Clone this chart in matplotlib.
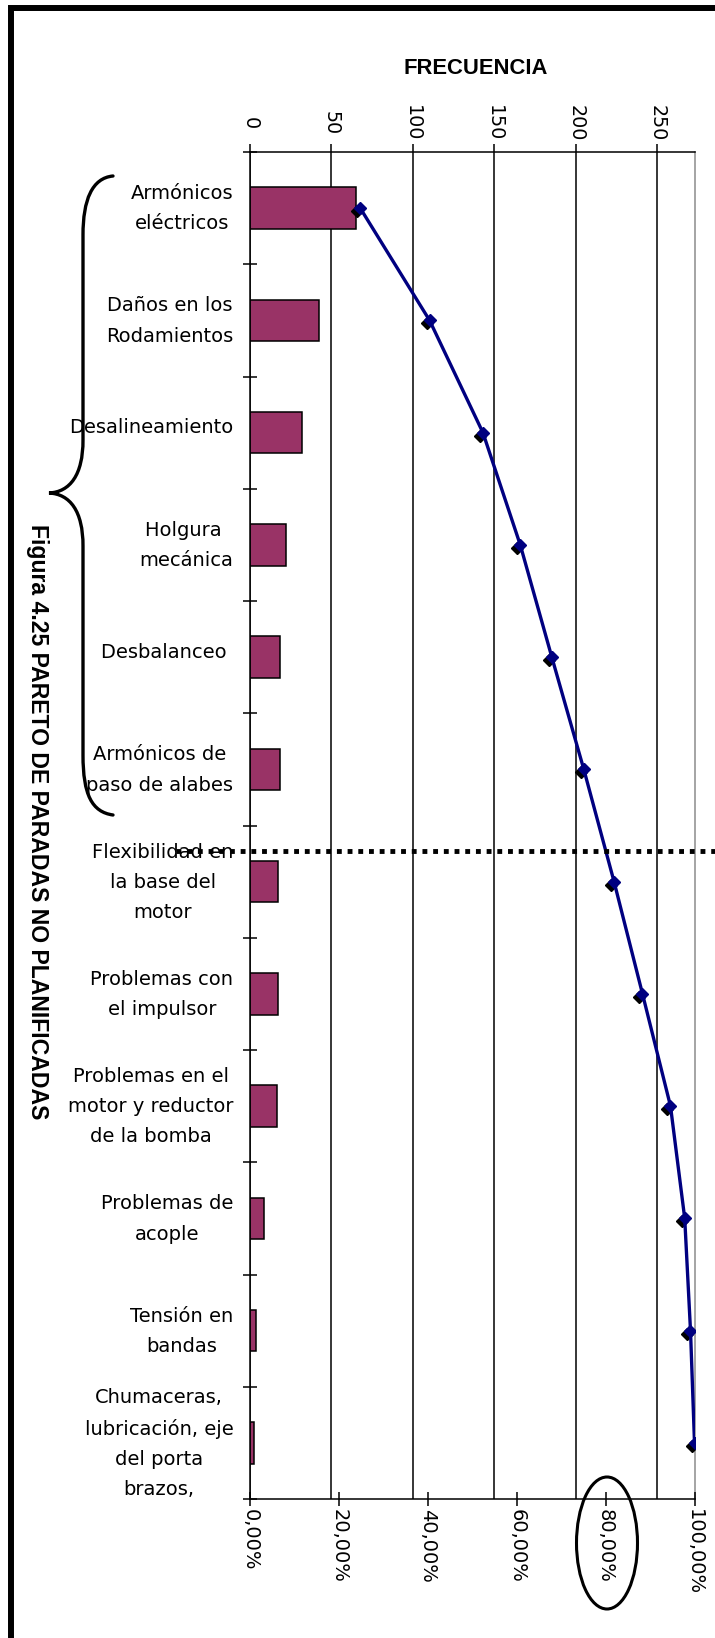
import matplotlib
matplotlib.use('Agg')
import matplotlib.pyplot as plt
import matplotlib.transforms as mtransforms
from matplotlib.path import Path
from matplotlib.patches import PathPatch, Ellipse, Rectangle
from matplotlib.lines import Line2D
import numpy as np

# ---------------- data ----------------
categorias = [
    "Armónicos\neléctricos",
    "Daños en los\nRodamientos",
    "Desalineamiento",
    "Holgura \nmecánica",
    "Desbalanceo ",
    "Armónicos de\npaso de alabes",
    "Flexibilidad en\nla base del\nmotor",
    "Problemas con\nel impulsor",
    "Problemas en el\nmotor y reductor\nde la bomba",
    "Problemas de\nacople",
    "Tensión en\nbandas",
    "Chumaceras,\nlubricación, eje\ndel porta\nbrazos,",
]
frecuencia = [64.8, 42.6, 31.7, 22.0, 18.5, 18.5, 17.5, 17.5, 16.5, 8.6, 3.5, 2.3]
porcentaje_acumulado = [24.8, 40.4, 52.4, 60.8, 67.9, 75.1, 81.9, 88.3, 94.6, 97.8, 99.1, 100.0]

freq_ticks = [0, 50, 100, 150, 200, 250]
freq_labels = ["0", "50", "100", "150", "200", "250"]
pct_ticks = [0, 20, 40, 60, 80, 100]
pct_labels = ["0,00%", "20,00%", "40,00%", "60,00%", "80,00%", "100,00%"]
freq_max = 273

titulo = "Figura 4.25 PARETO DE PARADAS NO PLANIFICADAS"
eje_titulo = "FRECUENCIA"

# ---------------- figure ----------------
W, H = 715, 1638
fig = plt.figure(figsize=(W / 100, H / 100), dpi=100)
fig.patch.set_facecolor('white')


def fx(x):
    return x / W


def fy(y):
    return 1 - y / H


ax_left, ax_right, ax_top, ax_bottom = 250, 694.5, 152, 1499
ax = fig.add_axes([fx(ax_left), fy(ax_bottom), (ax_right - ax_left) / W, (ax_bottom - ax_top) / H])
ax2 = ax.twiny()   # secondary percent axis (created first: twiny resets ax's tick side)

ypos = np.arange(len(categorias))
ax.barh(ypos, frecuencia, height=0.37, color='#993366', edgecolor='black', linewidth=1.1, zorder=2)
ax.set_xlim(0, freq_max)
ax.set_ylim(len(categorias) - 0.5, -0.5)

# top frequency axis
ax.xaxis.tick_top()
ax.xaxis.set_label_position('top')
ax.tick_params(axis='x', which='major', direction='out', length=5.8, width=1.1, pad=15,
               top=True, bottom=False, labeltop=True, labelbottom=False, colors='black')
ax.set_xticks(freq_ticks)
ax.set_xticklabels(freq_labels, rotation=-90, fontsize=13.8, family='DejaVu Sans')
for t in ax.xaxis.get_major_ticks():
    t.label2.set_va('center')
ax.grid(axis='x', color='black', linewidth=1.1)
ax.set_axisbelow(True)

# category axis
ax.set_yticks(ypos)
ax.set_yticklabels(categorias, fontsize=14, family='DejaVu Sans', multialignment='center', linespacing=1.75)
ax.set_yticks(np.arange(-0.5, len(categorias), 1), minor=True)
ax.tick_params(axis='y', which='major', length=0, pad=12)
ax.tick_params(axis='y', which='minor', direction='inout', length=10, width=1.1)

for s in ['top', 'left', 'bottom']:
    ax.spines[s].set_color('black')
    ax.spines[s].set_linewidth(1.1)
ax.spines['right'].set_color('#8c8c8c')
ax.spines['right'].set_linewidth(1.1)

# percent axis at the bottom
ax2.set_xlim(0, 100)
ax2.xaxis.tick_bottom()
ax2.xaxis.set_label_position('bottom')
ax2.tick_params(axis='x', direction='inout', length=9.4, width=1.1, pad=2.5,
                top=False, bottom=True, labeltop=False, labelbottom=True)
ax2.set_xticks(pct_ticks)
ax2.set_xticklabels(pct_labels, rotation=-90, fontsize=14, family='DejaVu Sans')
for s in ax2.spines.values():
    s.set_visible(False)

shadow = ax2.transData + mtransforms.ScaledTranslation(-3 / 100, -3 / 100, fig.dpi_scale_trans)
ax2.plot(porcentaje_acumulado, ypos, ls='none', marker='D', ms=6.5, color='black',
         transform=shadow, zorder=3)
ax2.plot(porcentaje_acumulado, ypos, color='#000080', lw=2.4, marker='D', ms=6.5,
         mfc='#000080', mec='#000080', zorder=4)
ax2.set_ylim(len(categorias) - 0.5, -0.5)

# shift category labels slightly upward (as in the reference)
up = mtransforms.ScaledTranslation(0, 0.07, fig.dpi_scale_trans)
for t in ax.yaxis.get_major_ticks():
    t.label1.set_transform(t.label1.get_transform() + up)

# titles
fig.text(fx(37.6), fy(821.6), titulo, rotation=-90, ha='center', va='center',
         fontsize=16.6, fontweight='bold', family='Liberation Sans')
fig.text(fx(475.6), fy(68), eje_titulo, ha='center', va='center',
         fontsize=15.8, fontweight='bold', family='Liberation Sans')

# dotted 80% separation line
fig.add_artist(Line2D([fx(176), fx(W + 5)], [fy(851), fy(851)], transform=fig.transFigure,
                      color='black', lw=3.5, linestyle=(0, (1.0, 1.2)), dash_capstyle='butt', zorder=10))

# ellipse around 80%
fig.add_artist(Ellipse((fx(607), fy(1543)), 61 / W, 132 / H, transform=fig.transFigure,
                       fill=False, ec='black', lw=2.2, zorder=10))

# curly brace
pts = [
    (113, 176),
    (92, 178), (83, 200), (83, 235),
    (83, 440),
    (83, 475), (70, 492), (49, 493),
    (70, 494), (83, 511), (83, 546),
    (83, 755),
    (83, 795), (92, 812), (113, 815),
]
codes = [Path.MOVETO,
         Path.CURVE4, Path.CURVE4, Path.CURVE4,
         Path.LINETO,
         Path.CURVE4, Path.CURVE4, Path.CURVE4,
         Path.CURVE4, Path.CURVE4, Path.CURVE4,
         Path.LINETO,
         Path.CURVE4, Path.CURVE4, Path.CURVE4]
brace = Path([(fx(x), fy(y)) for x, y in pts], codes)
fig.add_artist(PathPatch(brace, transform=fig.transFigure, fill=False, ec='black', lw=2.4,
                         capstyle='round', zorder=10))

# outer frame (clipped at right and bottom)
fig.add_artist(Rectangle((fx(10.5), -0.1), 2, fy(8) + 0.1, transform=fig.transFigure,
                         fill=False, ec='black', lw=4.3, zorder=11))

fig.savefig('out.png', dpi=100)
